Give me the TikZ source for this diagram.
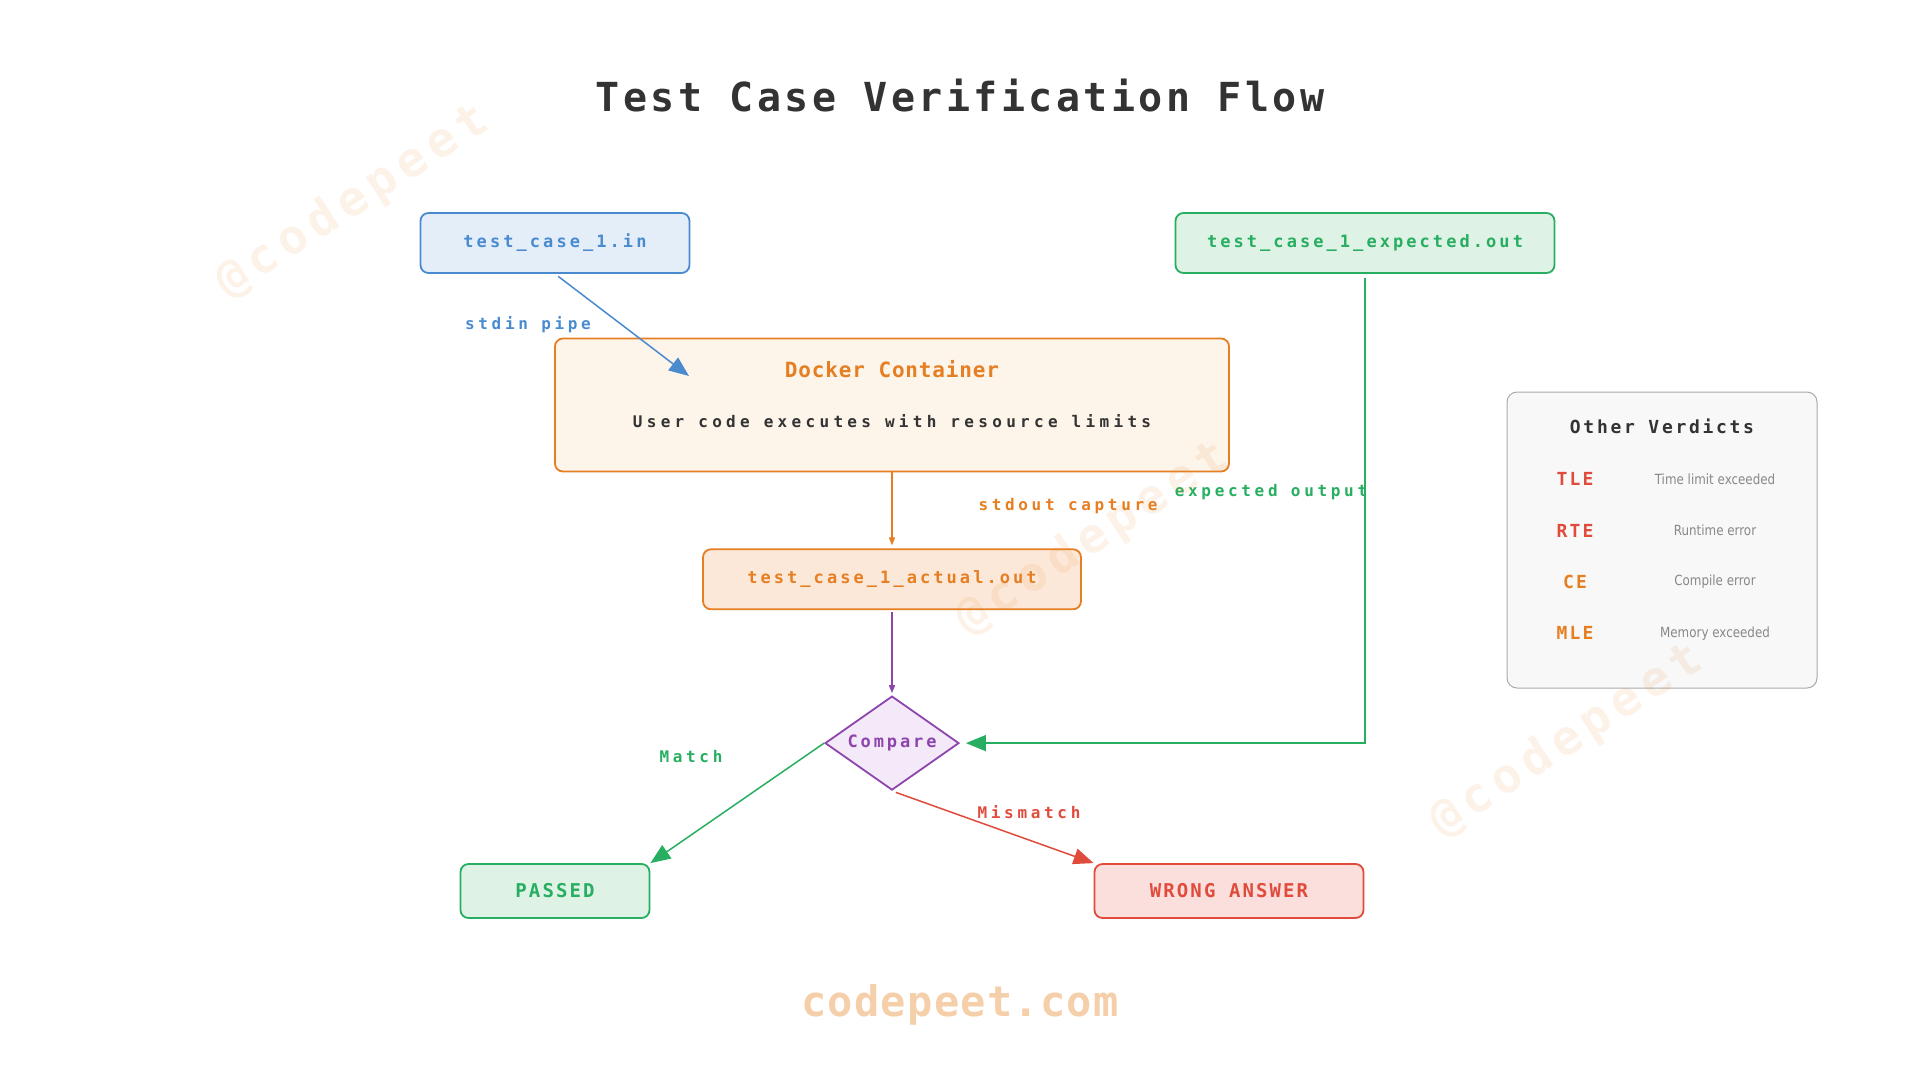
\documentclass[tikz,border=0pt]{standalone}
\usepackage{fontspec}
\setmonofont{DejaVu Sans Mono}
\newfontfamily\condfont{DejaVu Sans}[FakeStretch=0.85]
\usetikzlibrary{positioning,arrows.meta,shapes.geometric}

\definecolor{ink}{HTML}{333333}
\definecolor{cblue}{HTML}{4A8BD0}
\definecolor{cbluefill}{HTML}{E4EEF9}
\definecolor{cgreen}{HTML}{27AE60}
\definecolor{cgreenfill}{HTML}{DFF2E6}
\definecolor{corange}{HTML}{E67E22}
\definecolor{cdockfill}{HTML}{FDF4EA}
\definecolor{coutfill}{HTML}{FCE8D8}
\definecolor{cpurple}{HTML}{8E44AD}
\definecolor{cpurplefill}{HTML}{F3E9F8}
\definecolor{cred}{HTML}{E04B3C}
\definecolor{credfill}{HTML}{FADFDD}
\definecolor{legfill}{HTML}{F8F8F8}
\definecolor{legline}{HTML}{AAAAAA}
\definecolor{descgray}{HTML}{888888}
\definecolor{faint}{HTML}{F5CFAA}

\newcommand{\mono}[2]{\ttfamily\bfseries\fontsize{#1}{#1}\selectfont\addfontfeature{LetterSpace=#2}}

\begin{document}
\begin{tikzpicture}[
  x=1pt, y=-1pt,
  box/.style={draw, rounded corners=8pt, line width=1.8pt, align=center, inner sep=0pt},
  file/.style={box, minimum height=60pt, font={\mono{17}{18}}},
  verdict/.style={box, minimum height=54pt, font={\mono{19}{11}}},
  flowtag/.style={font={\mono{16}{23}}},
  arrow/.style={line width=1.5pt, -{Triangle[length=20pt,width=16pt]}},
  tick/.style={line width=1.5pt, -{Triangle[length=8pt,width=6pt]}}
]
\useasboundingbox (0,0) rectangle (1920,1080);

\node[text=ink, font={\mono{40}{8.5}}] (title) at (960,96) {Test Case Verification Flow};

% files and container
\node[file, draw=cblue, fill=cbluefill, text=cblue, minimum width=269pt] (input) at (555,243) {test\_case\_1.in};
\node[file, draw=cgreen, fill=cgreenfill, text=cgreen, minimum width=379pt] (expected) at (1365,243) {test\_case\_1\_expected.out};
\node[box, draw=corange, fill=cdockfill, minimum width=674pt, minimum height=133pt] (docker) at (892,405) {};
\node[text=corange, font={\mono{21}{4}}] (dockertitle) at (892,369) {Docker Container};
\node[text=ink, font={\mono{16}{27}}] (dockernote) at (892,421) {User code executes with resource limits};
\node[file, draw=corange, fill=coutfill, text=corange, minimum width=378pt, below=76pt of docker] (actual) {test\_case\_1\_actual.out};
\node[diamond, draw=cpurple, fill=cpurplefill, line width=1.8pt, minimum width=134pt, minimum height=94pt,
  aspect=1.43, inner sep=0pt, text=cpurple, font={\mono{17}{17}}, below=85pt of actual] (compare) {Compare};

% results
\node[verdict, draw=cgreen, fill=cgreenfill, text=cgreen, minimum width=189pt] (passed) at (555,891) {PASSED};
\node[verdict, draw=cred, fill=credfill, text=cred, minimum width=269pt] (wrong) at (1229,891) {WRONG ANSWER};

% connectors
\coordinate (pipeend) at (689,376);
\draw[arrow, cblue, shorten <=4pt] (input.south) -- (pipeend);
\draw[tick, corange, shorten >=3pt] (docker.south) -- (actual.north);
\draw[tick, cpurple, shorten <=2pt, shorten >=2pt] (actual.south) -- (compare.north);
\draw[arrow, cgreen, shorten <=4pt, shorten >=6pt] (expected.south) |- (compare.east);
\draw[arrow, cgreen] (compare.west) -- (passed.north east);
\draw[arrow, cred, shorten <=4pt] (compare.south) -- (wrong.north west);

\node[flowtag, text=cblue] (pipetag) at (528,325) {stdin pipe};
\node[flowtag, text=corange] (capturetag) at (1068,506) {stdout capture};
\node[flowtag, text=cgreen] (expecttag) at (1271,492) {expected output};
\node[flowtag, text=cgreen] (matchtag) at (691,757) {Match};
\node[flowtag, text=cred] (mismatchtag) at (1029,812) {Mismatch};

% legend
\node[draw=legline, fill=legfill, rounded corners=10pt, line width=1pt, minimum width=310pt, minimum height=296pt] (legend) at (1662,540) {};
\node[text=ink, font={\mono{18}{15}}] (legtitle) at (1662,426) {Other Verdicts};
\foreach \code/\desc/\col [count=\i] in {TLE/Time limit exceeded/cred, RTE/Runtime error/cred, CE/Compile error/corange, MLE/Memory exceeded/corange} {
  \node[text=\col, font={\mono{18}{12}}] (code\i) at (1575,428+51.3*\i) {\code};
  \node[text=descgray, font={\condfont\fontsize{14}{14}\selectfont}] (desc\i) at (1715,428+51.3*\i) {\desc};
}

\node[text=faint, font={\mono{42}{3}}] (site) at (960,1005) {codepeet.com};

% watermarks
\foreach \wx/\wy [count=\k] in {353/202, 1093/539, 1567/741}
  \node[rotate=33, text=corange, text opacity=0.1, font={\mono{48}{14}}] (mark\k) at (\wx,\wy) {@codepeet};
\end{tikzpicture}
\end{document}
